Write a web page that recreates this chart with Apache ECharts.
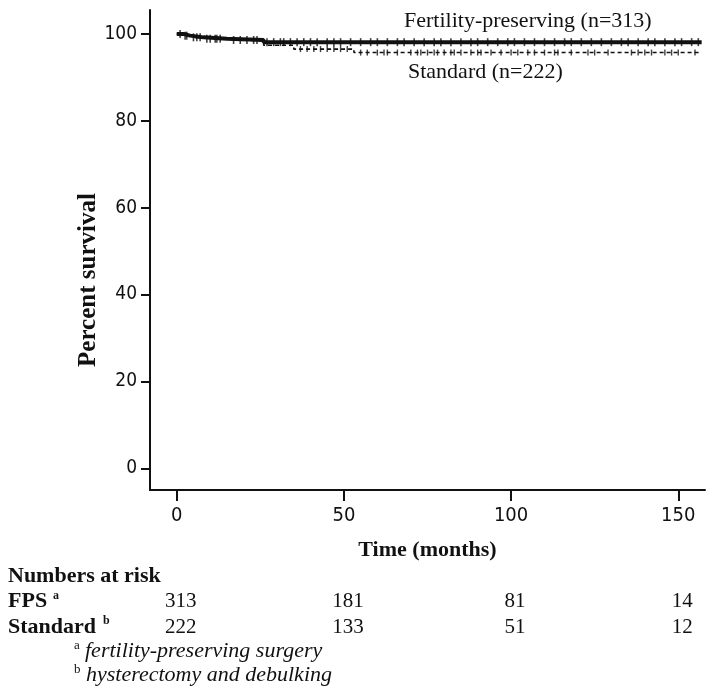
<!DOCTYPE html>
<html>
	<head>
		<meta charset="utf-8">
		<title>Percent survival</title>
		<script src="https://cdn.jsdelivr.net/npm/echarts@6/dist/echarts.min.js"></script>
		<style>
			html, body { margin: 0; padding: 0; background: #fff; }
			#main { width: 714px; height: 699px; }
		</style>
	</head>
	<body>
		<div id="main"></div>
		<script>
			// KM steps (months, percent)
			var fpsTimes = [0, 2, 4, 8, 15, 26, 157];
			var fpsSurv = [100, 99.6, 99.2, 98.9, 98.6, 98.1, 98.1];
			var stdTimes = [0, 2, 5, 9, 16, 26, 35, 53, 157];
			var stdSurv = [100, 99.6, 99.1, 98.7, 98.4, 97.4, 96.5, 95.7, 95.7];

			// censored observations (months)
			var fpsCensor = [1, 2.5, 3, 5, 6, 7, 9, 10, 11.5, 12, 13, 17, 19, 21, 23, 24, 27, 29, 31, 32, 34, 36, 38, 40, 42, 45, 47, 49, 52, 55, 58, 60, 63, 66, 68, 71, 74, 77, 79, 82, 85, 88, 90, 93, 96, 99, 101, 104, 107, 110, 113, 116, 118, 121, 124, 127, 130, 133, 135, 138, 141, 143, 146, 149, 151, 154, 156];
			var stdCensor = [37, 39, 41, 43, 45, 47, 49, 51, 55, 57, 60, 62, 63, 66, 70, 72, 73, 75, 77, 78, 80, 82, 83, 85, 88, 90, 91, 94, 97, 100, 102, 105, 107, 110, 113, 114, 118, 123, 125, 129, 136, 138, 140, 142, 146, 148, 150, 155];

			var xTicks = [0, 50, 100, 150];
			var yTicks = [0, 20, 40, 60, 80, 100];

			// numbers at risk
			var riskTimes = [0, 50, 100, 150];
			var riskFps = [313, 181, 81, 14];
			var riskStd = [222, 133, 51, 12];

			var serif = "'Liberation Serif', 'Times New Roman', serif";
			var narrow = "'Liberation Sans Narrow', 'DejaVu Sans Condensed', sans-serif";

			function pairs(t, s) {
				var out = [];
				for (var i = 0; i < t.length; i++) out.push([t[i], s[i]]);
				return out;
			}

			// survival value at time t from the step table
			function survAt(times, surv, t) {
				var v = surv[0];
				for (var i = 0; i < times.length; i++) {
					if (times[i] <= t) v = surv[i];
				}
				return v;
			}

			function censorPts(c, times, surv) {
				return c.map(function (t) { return [t, survAt(times, surv, t)]; });
			}

			var chart = echarts.init(document.getElementById('main'));

			var option = {
				backgroundColor: '#fff',
				animation: false,
				grid: { left: 150, right: 9, top: 10, bottom: 209 },
				xAxis: {
					type: 'value',
					min: -8,
					max: 158,
					name: 'Time (months)',
					nameLocation: 'middle',
					nameGap: 49,
					nameTextStyle: { fontFamily: serif, fontWeight: 'bold', fontSize: 22, color: '#111' },
					axisLine: { onZero: false, lineStyle: { color: '#111', width: 2 } },
					axisTick: { customValues: xTicks, length: 11, lineStyle: { color: '#111', width: 2 } },
					axisLabel: { customValues: xTicks, margin: 16, fontFamily: narrow, fontSize: 20, color: '#111' },
					splitLine: { show: false }
				},
				yAxis: {
					type: 'value',
					min: -5,
					max: 105.5,
					axisLine: { show: true, onZero: false, lineStyle: { color: '#111', width: 2 } },
					axisTick: { show: true, customValues: yTicks, length: 9, lineStyle: { color: '#111', width: 2 } },
					axisLabel: { customValues: yTicks, margin: 13, fontFamily: narrow, fontSize: 19, color: '#111' },
					splitLine: { show: false }
				},
				series: [{
					name: 'Fertility-preserving',
					type: 'line',
					step: 'end',
					symbol: 'none',
					data: pairs(fpsTimes, fpsSurv),
					lineStyle: { color: '#111', width: 4 }
				}, {
					name: 'Standard',
					type: 'line',
					step: 'end',
					symbol: 'none',
					data: pairs(stdTimes, stdSurv),
					lineStyle: { color: '#111', width: 1.6, type: [4, 3] }
				}, {
					type: 'scatter',
					symbol: 'rect',
					symbolSize: [1.6, 8],
					itemStyle: { color: '#111' },
					data: censorPts(fpsCensor, fpsTimes, fpsSurv)
				}, {
					type: 'scatter',
					symbol: 'rect',
					symbolSize: [1.4, 6],
					itemStyle: { color: '#111' },
					data: censorPts(stdCensor, stdTimes, stdSurv)
				}]
			};
			chart.setOption(option);

			// texts outside the plot
			var g = [
				{ type: 'text', x: 89, y: 280, rotation: Math.PI / 2, style: { text: 'Percent survival', font: 'bold 25px ' + serif, fill: '#111', align: 'center', verticalAlign: 'middle' } },
				{ type: 'text', x: 404, y: 21, style: { text: 'Fertility-preserving (n=313)', font: '22px ' + serif, fill: '#111', verticalAlign: 'middle' } },
				{ type: 'text', x: 408, y: 72, style: { text: 'Standard (n=222)', font: '22px ' + serif, fill: '#111', verticalAlign: 'middle' } },
				{ type: 'text', x: 8, y: 576, style: { text: 'Numbers at risk', font: 'bold 22px ' + serif, fill: '#111', verticalAlign: 'middle' } },
				{ type: 'text', x: 8, y: 601, style: { text: 'FPS', font: 'bold 22px ' + serif, fill: '#111', verticalAlign: 'middle' } },
				{ type: 'text', x: 53, y: 596, style: { text: 'a', font: 'bold 12px ' + serif, fill: '#111', verticalAlign: 'middle' } },
				{ type: 'text', x: 8, y: 627, style: { text: 'Standard', font: 'bold 22px ' + serif, fill: '#111', verticalAlign: 'middle' } },
				{ type: 'text', x: 103, y: 621, style: { text: 'b', font: 'bold 12px ' + serif, fill: '#111', verticalAlign: 'middle' } },
				{ type: 'text', x: 74, y: 646, style: { text: 'a', font: '13px ' + serif, fill: '#111', verticalAlign: 'middle' } },
				{ type: 'text', x: 85, y: 651, style: { text: 'fertility-preserving surgery', font: 'italic 22px ' + serif, fill: '#111', verticalAlign: 'middle' } },
				{ type: 'text', x: 74, y: 670, style: { text: 'b', font: '13px ' + serif, fill: '#111', verticalAlign: 'middle' } },
				{ type: 'text', x: 86, y: 675, style: { text: 'hysterectomy and debulking', font: 'italic 22px ' + serif, fill: '#111', verticalAlign: 'middle' } }
			];
			for (var i = 0; i < riskTimes.length; i++) {
				var px = chart.convertToPixel({ xAxisIndex: 0 }, riskTimes[i]) + 4;
				g.push({ type: 'text', x: px, y: 601, style: { text: String(riskFps[i]), font: '21px ' + serif, fill: '#111', align: 'center', verticalAlign: 'middle' } });
				g.push({ type: 'text', x: px, y: 627, style: { text: String(riskStd[i]), font: '21px ' + serif, fill: '#111', align: 'center', verticalAlign: 'middle' } });
			}
			chart.setOption({ graphic: g });
		</script>
	</body>
</html>
